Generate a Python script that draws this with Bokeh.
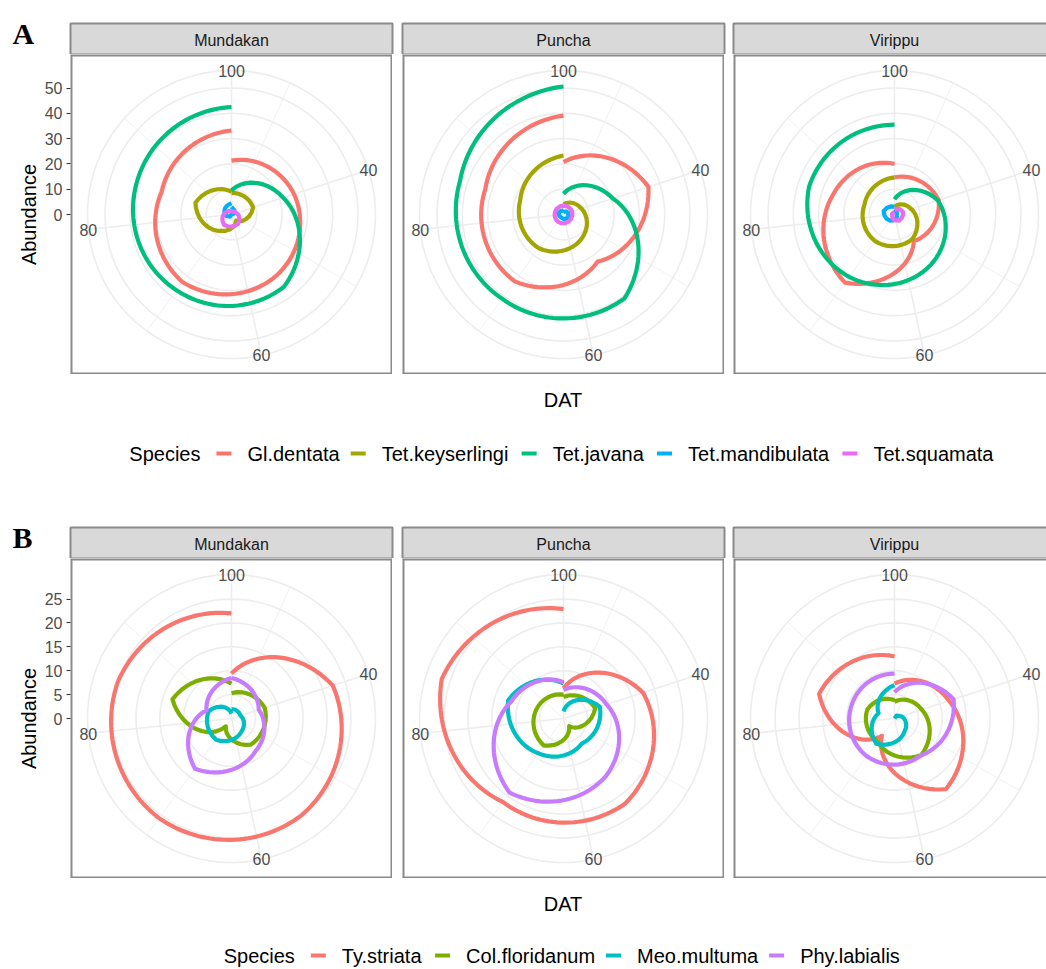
import numpy as np
from bokeh.plotting import figure
from bokeh.models import Range1d, FixedTicker
from bokeh.layouts import column, row
from bokeh.embed import file_html
from bokeh.resources import INLINE
from bokeh.core.properties import value

# ---------------- data ----------------
DAT = [25, 40, 55, 70, 85, 100]          # days after transplanting (sampling dates)
DAT_BREAKS = [40, 60, 80, 100]
DAT_MINOR = [30, 50, 70, 90]
SITES = ["Mundakan", "Puncha", "Virippu"]

# Panel A: spiders
SPECIES_A = ["Gl.dentata", "Tet.keyserlingi", "Tet.javana", "Tet.mandibulata", "Tet.squamata"]
COLORS_A = ["#F8766D", "#A3A500", "#00BF7D", "#00B0F6", "#E76BF3"]
ABUND_TICKS_A = [0, 10, 20, 30, 40, 50]

mundakan_gl_dentata = [21.3, 26.0, 30.0, 33.0, 29.0, 33.2]
mundakan_tet_keyserlingi = [8.5, 9.0, 3.0, 8.0, 15.0, 9.0]
mundakan_tet_javana = [9.5, 21.5, 35.3, 37.0, 39.5, 42.5]
mundakan_tet_mandibulata = [3.0, 1.0, 0.0, 1.0, 3.0, 4.5]
mundakan_tet_squamata = [1.0, 2.0, 4.5, 5.0, 2.5, 1.0]

puncha_gl_dentata = [20.7, 35.3, 23.0, 32.7, 32.5, 39.1]
puncha_tet_keyserlingi = [4.0, 7.5, 12.0, 16.5, 18.0, 23.3]
puncha_tet_javana = [8.2, 20.5, 41.0, 41.2, 43.0, 50.6]
puncha_tet_mandibulata = [1.0, 2.0, 2.0, 1.5, 2.0, 1.5]
puncha_tet_squamata = [3.5, 3.6, 3.4, 3.6, 3.5, 3.5]

virippu_gl_dentata = [14.7, 18.4, 13.0, 33.3, 25.5, 20.0]
virippu_tet_keyserlingi = [3.0, 7.0, 12.0, 13.0, 12.5, 14.7]
virippu_tet_javana = [6.0, 18.0, 24.5, 30.5, 35.5, 35.5]
virippu_tet_mandibulata = [2.0, 1.0, 1.5, 3.0, 4.5, 3.0]
virippu_tet_squamata = [2.0, 3.5, 3.0, 1.5, 1.0, 1.0]

# Panel B: other predators
SPECIES_B = ["Ty.striata", "Col.floridanum", "Meo.multuma", "Phy.labialis"]
COLORS_B = ["#F8766D", "#7CAE00", "#00BFC4", "#C77CFF"]
ABUND_TICKS_B = [0, 5, 10, 15, 20, 25]

mundakan_ty_striata = [9.4, 22.3, 25.0, 25.8, 25.0, 22.0]
mundakan_col_floridanum = [5.3, 7.3, 6.8, 2.0, 13.0, 7.3]
mundakan_meo_multuma = [2.0, 2.0, 3.5, 5.5, 5.0, 1.0]
mundakan_phy_labialis = [8.5, 6.0, 8.5, 13.0, 5.5, 8.5]

puncha_ty_striata = [6.3, 17.5, 22.0, 21.6, 26.8, 22.9]
puncha_col_floridanum = [4.5, 7.0, 2.0, 7.0, 6.0, 5.0]
puncha_meo_multuma = [1.5, 8.0, 6.5, 9.0, 12.2, 7.3]
puncha_phy_labialis = [6.0, 9.5, 15.0, 19.2, 11.5, 7.6]

virippu_ty_striata = [7.3, 12.0, 18.3, 4.5, 16.6, 13.0]
virippu_col_floridanum = [3.5, 6.0, 9.5, 6.0, 6.0, 3.8]
virippu_meo_multuma = [0.0, 1.5, 3.5, 6.5, 3.5, 7.0]
virippu_phy_labialis = [5.5, 13.0, 9.5, 9.8, 9.4, 9.4]

SERIES_A = {
    "Mundakan": [mundakan_gl_dentata, mundakan_tet_keyserlingi, mundakan_tet_javana,
                 mundakan_tet_mandibulata, mundakan_tet_squamata],
    "Puncha": [puncha_gl_dentata, puncha_tet_keyserlingi, puncha_tet_javana,
               puncha_tet_mandibulata, puncha_tet_squamata],
    "Virippu": [virippu_gl_dentata, virippu_tet_keyserlingi, virippu_tet_javana,
                virippu_tet_mandibulata, virippu_tet_squamata],
}
SERIES_B = {
    "Mundakan": [mundakan_ty_striata, mundakan_col_floridanum, mundakan_meo_multuma, mundakan_phy_labialis],
    "Puncha": [puncha_ty_striata, puncha_col_floridanum, puncha_meo_multuma, puncha_phy_labialis],
    "Virippu": [virippu_ty_striata, virippu_col_floridanum, virippu_meo_multuma, virippu_phy_labialis],
}

# ---------------- styling / layout ----------------
PAGE_W = 1046
PANEL_W = 322
PANEL_H = 320
PANEL_LEFTS = [70, 402, 733]
BORDERS = [70, 10, 9]                       # left border of each panel figure
FRAME_W = [322, 322, PAGE_W - 733]          # last panel runs off the page edge
SANS = "Liberation Sans"
SERIF = "Liberation Serif"
GRID = "#EDEDED"
EDGE = "#8a8a8a"
TXT_GREY = "#4D4D4D"
LINE_W = 4.2

DAT_MIN, DAT_MAX = min(DAT), max(DAT)
# arc length of a unit Archimedean spiral over one turn (normaliser used for munching)
MAX_DIST = 3.383


def theta_of(d):
    return 2 * np.pi * (np.asarray(d, float) - DAT_MIN) / (DAT_MAX - DAT_MIN)


def polar_xy(dat, ab, rmax):
    """Map (DAT, abundance) to cartesian, interpolating along the spiral between samples."""
    th = theta_of(dat)
    r = np.asarray(ab, float)
    T, R = [], []
    for i in range(len(r) - 1):
        rn0, rn1 = r[i] / rmax, r[i + 1] / rmax
        d = np.hypot(0.5 * (rn0 + rn1) * (th[i + 1] - th[i]), rn1 - rn0) / MAX_DIST
        n = int(d / 0.01) + 1
        f = np.arange(n) / n
        T.extend(th[i] + f * (th[i + 1] - th[i]))
        R.extend(r[i] + f * (r[i + 1] - r[i]))
    T.append(th[-1])
    R.append(r[-1])
    T, R = np.array(T), np.array(R)
    return R * np.sin(T), R * np.cos(T)


def base_fig(width, height, xr, yr, left=0):
    p = figure(width=width, height=height, x_range=xr, y_range=yr, title=None,
               output_backend="svg", toolbar_location=None,
               min_border_left=left, min_border_right=0, min_border_top=0, min_border_bottom=0)
    p.xaxis.visible = False
    p.yaxis.visible = False
    p.xgrid.visible = False
    p.ygrid.visible = False
    p.outline_line_color = None
    p.background_fill_color = "white"
    p.border_fill_color = "white"
    return p


def panel(col, series, colors, rmax, ticks, with_axis):
    s = 0.4 * PANEL_H / rmax                 # pixels per abundance unit
    x0 = -(PANEL_W / 2) / s
    x1 = x0 + FRAME_W[col] / s
    h = (PANEL_H / 2) / s
    p = base_fig(BORDERS[col] + FRAME_W[col], PANEL_H, Range1d(x0, x1), Range1d(-h, h), BORDERS[col])

    outer = 0.45 / 0.4 * rmax
    # spokes (major then minor DAT) and abundance circles
    for brks, lw in ((DAT_BREAKS, 1.6), (DAT_MINOR, 0.8)):
        th = theta_of(brks)
        p.multi_line([[0, outer * np.sin(t)] for t in th], [[0, outer * np.cos(t)] for t in th],
                     line_color=GRID, line_width=lw)
    full = np.linspace(0, 2 * np.pi, 100)
    rings = [t for t in ticks if t > 0] + [outer]
    p.multi_line([list(rr * np.sin(full)) for rr in rings], [list(rr * np.cos(full)) for rr in rings],
                 line_color=GRID, line_width=1.6)

    th = theta_of(DAT_BREAKS)
    p.text(x=list(outer * np.sin(th)), y=list(outer * np.cos(th)), text=[str(b) for b in DAT_BREAKS],
           text_font=value(SANS), text_font_size=value("16px"), text_color=TXT_GREY,
           text_align="center", text_baseline="middle")

    for vals, c in zip(series, colors):
        x, y = polar_xy(DAT, vals, rmax)
        p.line(x, y, line_color=c, line_width=LINE_W, line_join="round", line_cap="butt")

    # panel border (the last panel is cut by the page edge, so no right side)
    xs = [[x0, x0], [x0, x1], [x0, x1]]
    ys = [[-h, h], [h, h], [-h, -h]]
    if col < 2:
        xs.append([x1, x1])
        ys.append([-h, h])
    p.multi_line(xs, ys, line_color=EDGE, line_width=4)

    if with_axis:
        p.yaxis.visible = True
        ax = p.yaxis[0]
        ax.ticker = FixedTicker(ticks=ticks)
        ax.axis_line_color = None
        ax.major_tick_in = 0
        ax.major_tick_out = 4
        ax.major_tick_line_color = "#333333"
        ax.major_tick_line_width = 1.2
        ax.minor_tick_line_color = None
        ax.major_label_standoff = 4
        ax.major_label_text_font = SANS
        ax.major_label_text_font_size = "16px"
        ax.major_label_text_color = TXT_GREY
        ax.axis_label = "Abundance"
        ax.axis_label_text_font = SANS
        ax.axis_label_text_font_size = "20px"
        ax.axis_label_text_font_style = "normal"
        ax.axis_label_text_color = "black"
        ax.axis_label_standoff = 2
    return p


def panel_row(series, colors, ticks):
    rmax = max(max(v) for site in SITES for v in series[site])
    return row(*[panel(i, series[site], colors, rmax, ticks, i == 0) for i, site in enumerate(SITES)])


def deco_fig(y_top, y_bot):
    return base_fig(PAGE_W, y_bot - y_top, Range1d(0, PAGE_W), Range1d(y_bot, y_top))


def draw_strips(p, top, bottom, letter):
    lefts = PANEL_LEFTS
    rights = [l + PANEL_W for l in lefts]
    p.quad(left=lefts, right=rights, top=[top] * 3, bottom=[bottom] * 3,
           fill_color="#D9D9D9", line_color=EDGE, line_width=2)
    p.text(x=[l + PANEL_W / 2 for l in lefts], y=[(top + bottom) / 2 + 1] * 3, text=SITES,
           text_font=value(SANS), text_font_size=value("16px"), text_color="#1A1A1A",
           text_align="center", text_baseline="middle")
    p.text(x=[12], y=[bottom - 21], text=[letter], text_font=value(SERIF), text_font_style="bold",
           text_font_size=value("30px"), text_color="black", text_align="left", text_baseline="alphabetic")


ARIAL = {"S": 667, "p": 556, "e": 556, "c": 500, "i": 222, "s": 500, "G": 778, "l": 222, ".": 278,
         "d": 556, "n": 556, "t": 278, "a": 556, "T": 611, "k": 500, "y": 500, "r": 333, "g": 556,
         "j": 222, "v": 500, "q": 556, "u": 556, "m": 833, "b": 556, "C": 722, "o": 556, "f": 278,
         "M": 833, "P": 667, "h": 556}


def text_w(txt, size):
    return sum(ARIAL.get(ch, 556) for ch in txt) / 1000 * size


KEY_LEN, GAP_TITLE, GAP_KEY, GAP_ITEM = 15, 16, 16, 11


def draw_legend(p, y, labels, colors, cx):
    fs = 20
    total = text_w("Species", fs) + GAP_TITLE
    total += sum(KEY_LEN + GAP_KEY + text_w(l, fs) for l in labels) + GAP_ITEM * (len(labels) - 1)
    x = cx - total / 2
    p.text(x=[x], y=[y], text=["Species"], text_font=value(SANS), text_font_size=value("20px"),
           text_color="black", text_align="left", text_baseline="middle")
    x += text_w("Species", fs) + GAP_TITLE
    kx, ky, lx = [], [], []
    for l in labels:
        kx.append([x, x + KEY_LEN])
        ky.append([y, y])
        x += KEY_LEN + GAP_KEY
        lx.append(x)
        x += text_w(l, fs) + GAP_ITEM
    p.multi_line(kx, ky, line_color=colors, line_width=LINE_W)
    p.text(x=lx, y=[y] * len(labels), text=labels, text_font=value(SANS), text_font_size=value("20px"),
           text_color="black", text_align="left", text_baseline="middle")


def draw_dat(p, y):
    p.text(x=[(PANEL_LEFTS[0] + PANEL_LEFTS[2] + PANEL_W) / 2], y=[y], text=["DAT"],
           text_font=value(SANS), text_font_size=value("20px"), text_color="black",
           text_align="center", text_baseline="middle")


LEGEND_CX = 562

top = deco_fig(0, 54)
draw_strips(top, 23, 54, "A")

rowA = panel_row(SERIES_A, COLORS_A, ABUND_TICKS_A)

mid = deco_fig(374, 558)
draw_dat(mid, 399)
draw_legend(mid, 453, SPECIES_A, COLORS_A, LEGEND_CX)
draw_strips(mid, 527, 558, "B")

rowB = panel_row(SERIES_B, COLORS_B, ABUND_TICKS_B)

bottom = deco_fig(878, 969)
draw_dat(bottom, 903)
draw_legend(bottom, 955, SPECIES_B, COLORS_B, LEGEND_CX)

layout = column(top, rowA, mid, rowB, bottom)
open("out.html", "w").write(file_html(layout, INLINE))
